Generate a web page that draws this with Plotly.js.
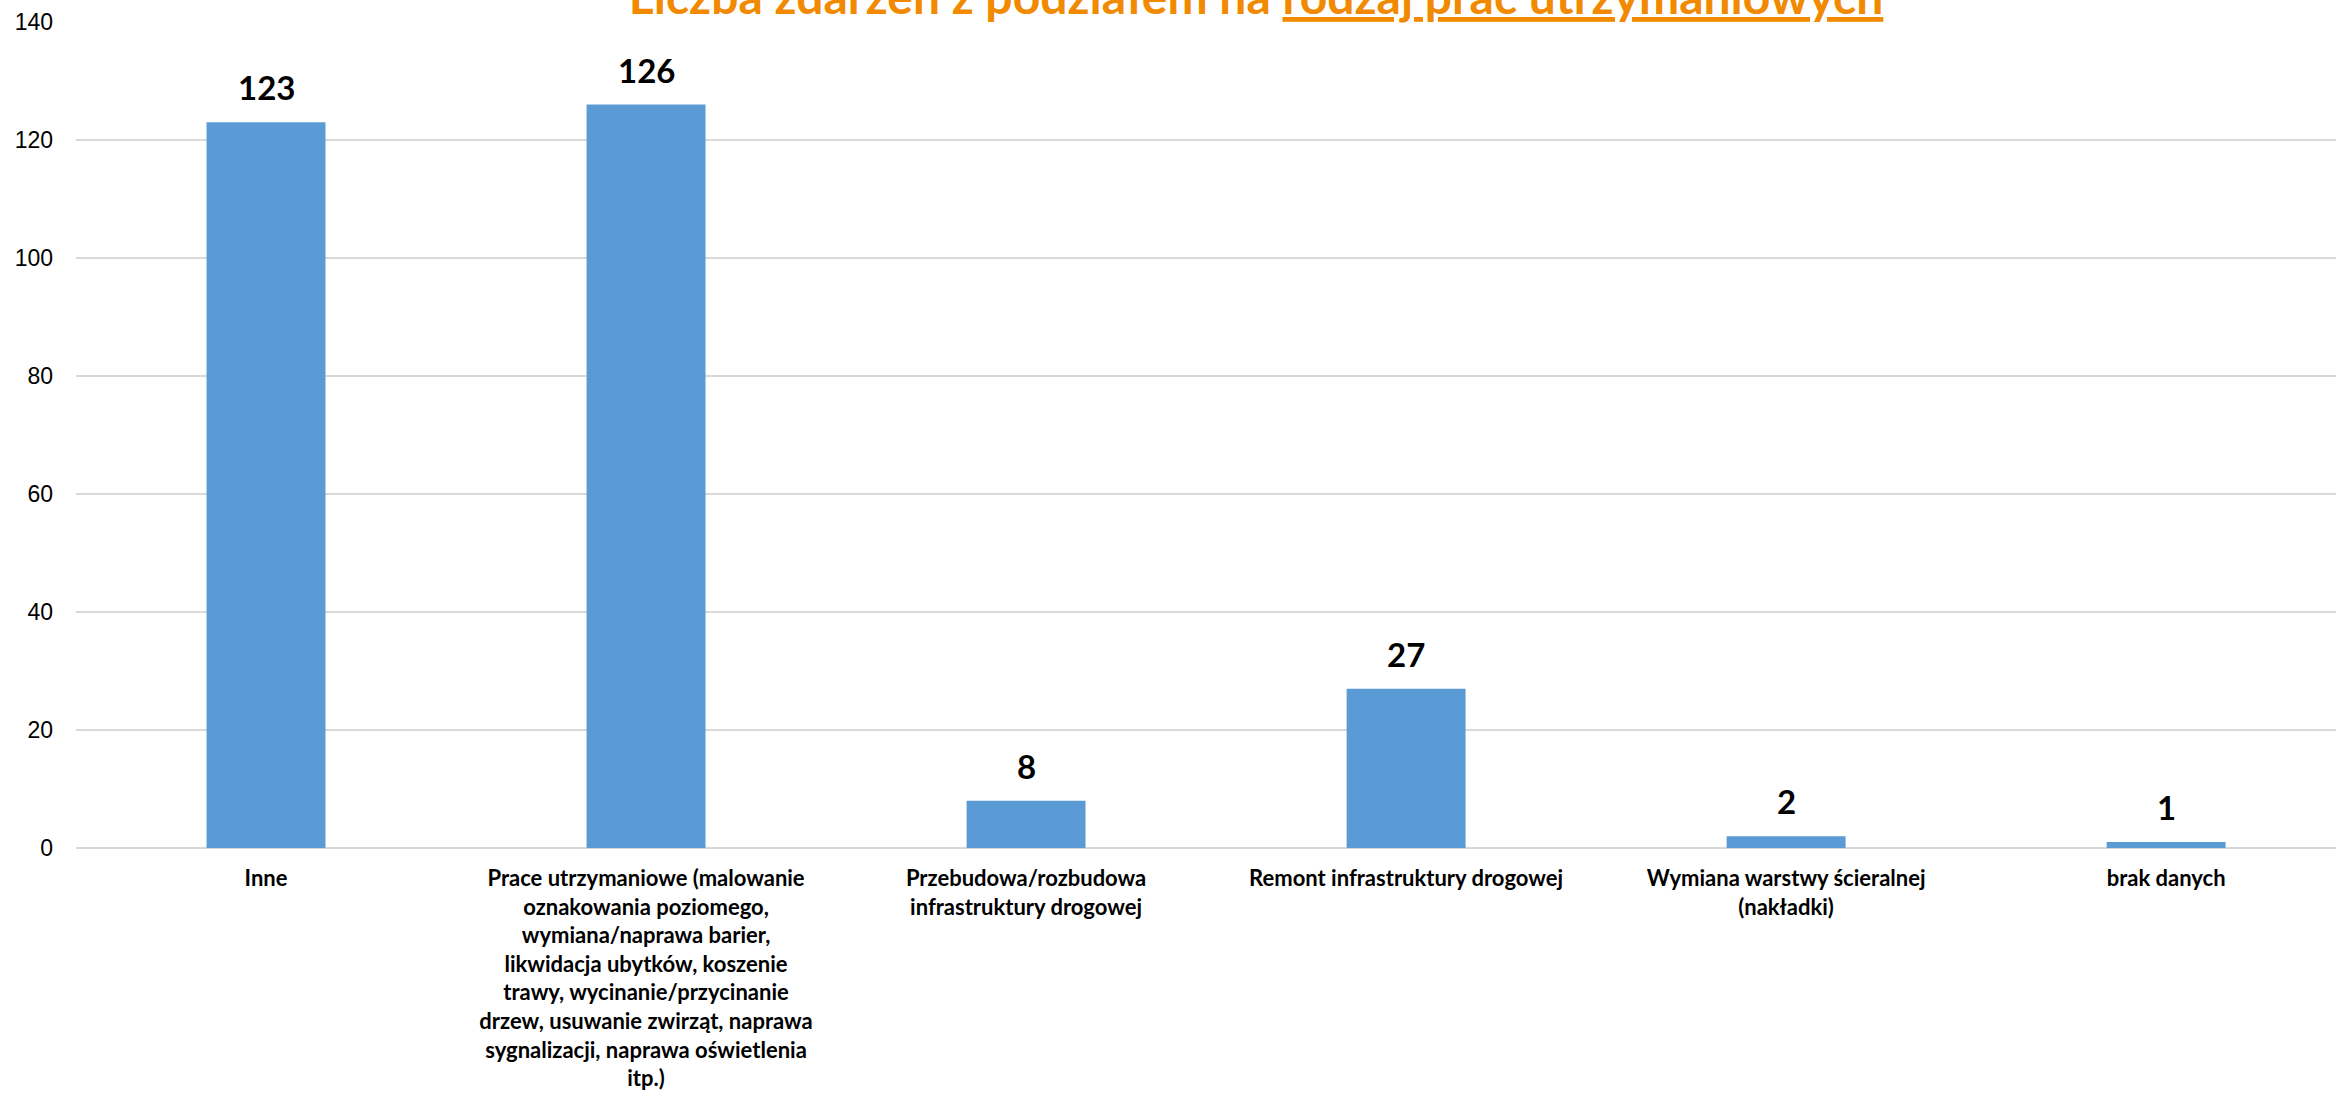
<!DOCTYPE html>
<html>
<head>
<meta charset="utf-8">
<script src="https://cdn.plot.ly/plotly-3.0.1.min.js"></script>
<style>
html, body { margin: 0; padding: 0; overflow: hidden; background: #fff; }
#chart { width: 2336px; height: 1093px; }
</style>
</head>
<body>
<div id="chart"></div>
<script>
const categories = [
  "Inne",
  "Prace utrzymaniowe (malowanie<br>oznakowania poziomego,<br>wymiana/naprawa barier,<br>likwidacja ubytków, koszenie<br>trawy, wycinanie/przycinanie<br>drzew, usuwanie zwirząt, naprawa<br>sygnalizacji, naprawa oświetlenia<br>itp.)",
  "Przebudowa/rozbudowa<br>infrastruktury drogowej",
  "Remont infrastruktury drogowej",
  "Wymiana warstwy ścieralnej<br>(nakładki)",
  "brak danych"
];
const values = [123, 126, 8, 27, 2, 1];
const yTicks = [0, 20, 40, 60, 80, 100, 120, 140];
const titleText = "Liczba zdarzeń z podziałem na <u>rodzaj prac utrzymaniowych</u>";

const trace = {
  type: 'bar',
  x: categories,
  y: values,
  width: 0.313,
  marker: { color: '#5B9BD5' },
  hoverinfo: 'x+y'
};

const annotations = categories.map((c, i) => ({
  x: c, y: values[i], xref: 'x', yref: 'y',
  text: '<b>' + values[i] + '</b>',
  showarrow: false, yanchor: 'bottom', yshift: 13,
  font: { family: 'Lato, sans-serif', size: 33, color: '#000' }
}));

const layout = {
  width: 2336, height: 1093,
  margin: { l: 76, r: 0, t: 22, b: 245 },
  paper_bgcolor: '#fff', plot_bgcolor: '#fff',
  showlegend: false,
  title: {
    text: titleText,
    font: { family: 'Lato, sans-serif', size: 48, color: '#F18A00', weight: 'bold' },
    x: 0.5377, xref: 'container', xanchor: 'center',
    y: 1 - 14 / 1093, yref: 'container', yanchor: 'bottom'
  },
  xaxis: {
    type: 'category',
    range: [-0.5, 5.447],
    tickangle: 0,
    showgrid: false,
    showline: false,
    ticks: '',
    ticklabelstandoff: 15,
    tickfont: { family: 'Lato, sans-serif', size: 22, color: '#000', weight: 'bold' },
    automargin: false
  },
  yaxis: {
    range: [0, 140],
    tickvals: yTicks,
    ticktext: yTicks.map(String),
    showgrid: true,
    gridcolor: '#D9D9D9',
    gridwidth: 2,
    zeroline: true,
    zerolinecolor: '#D9D9D9',
    zerolinewidth: 2,
    showline: false,
    ticks: '',
    ticklabelstandoff: 22,
    tickfont: { family: 'Liberation Sans, Arial, sans-serif', size: 23, color: '#000' },
    automargin: false
  },
  annotations: annotations,
  bargap: 0.69
};

Plotly.newPlot('chart', [trace], layout, { displayModeBar: false, staticPlot: true });
</script>
</body>
</html>
